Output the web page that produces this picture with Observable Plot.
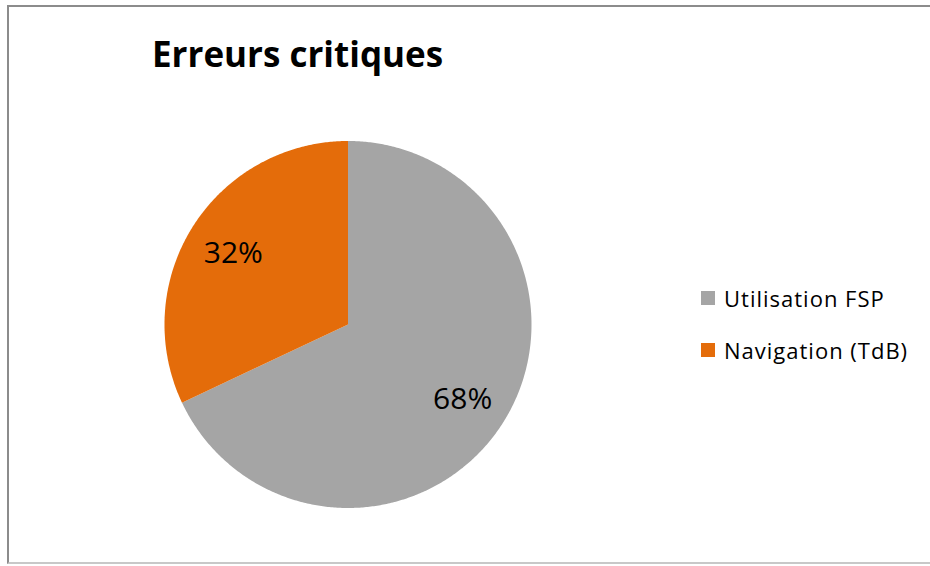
<!DOCTYPE html>
<html>
<head>
<meta charset="utf-8">
<script src="https://cdn.jsdelivr.net/npm/d3@7"></script>
<script src="https://cdn.jsdelivr.net/npm/@observablehq/plot@0.6"></script>
<style>
  html, body { margin: 0; padding: 0; background: #fff; }
  #wrap { position: relative; width: 930px; height: 566px; overflow: hidden; font-family: "Open Sans", Lato, sans-serif; font-variant-ligatures: none; }
  #frame { position: absolute; left: 7px; top: 5px; width: 940px; height: 559px; box-sizing: border-box; border-left: 2px solid #8c8c8c; border-top: 2px solid #8c8c8c; border-bottom: 2px solid #c8c8c8; }
  #plot { position: absolute; left: 0; top: 0; }
  #title { position: absolute; left: 152px; top: 33px; font-size: 35px; font-weight: bold; color: #000; white-space: nowrap; line-height: 1.2; }
  #legend { position: absolute; left: 701px; top: 284px; font-size: 22px; letter-spacing: 1px; color: #000; }
  .item { display: flex; align-items: center; height: 28px; margin-bottom: 24px; white-space: nowrap; }
  .sw { width: 14px; height: 14px; margin-right: 9px; }
</style>
</head>
<body>
<div id="wrap">
  <div id="frame"></div>
  <div id="plot"></div>
  <div id="title">Erreurs critiques</div>
  <div id="legend"></div>
</div>
<script>
const categories = ["Utilisation FSP", "Navigation (TdB)"];
const values = [68, 32];
const labels = ["68%", "32%"];
const colors = ["#A5A5A5", "#E46C0A"];

const W = 930, H = 566;
const cx = 347.5, cy = 324, R = 183.5;

// build slice polygons (clockwise from 12 o'clock) in unit-circle data space
const total = d3.sum(values);
let start = 0;
const polys = [];
const labelPts = [];
categories.forEach((c, i) => {
  const a0 = start / total * 2 * Math.PI;
  const a1 = (start + values[i]) / total * 2 * Math.PI;
  start += values[i];
  polys.push({name: c, x: 0, y: 0});
  const n = Math.max(2, Math.ceil((a1 - a0) / (Math.PI / 360)));
  for (let k = 0; k <= n; k++) {
    const a = a0 + (a1 - a0) * k / n;
    polys.push({name: c, x: Math.sin(a), y: Math.cos(a)});
  }
  const am = (a0 + a1) / 2;
  labelPts.push({name: c, label: labels[i], x: 0.74 * Math.sin(am), y: 0.74 * Math.cos(am)});
});

const chart = Plot.plot({
  width: W, height: H,
  margin: 0,
  x: {domain: [-cx / R, (W - cx) / R], axis: null},
  y: {domain: [-(H - cy) / R, cy / R], axis: null},
  color: {domain: categories, range: colors},
  style: {background: "transparent", overflow: "visible"},
  marks: [
    Plot.line(polys, {x: "x", y: "y", z: "name", fill: "name", stroke: "none", curve: "linear"}),
    Plot.text(labelPts, {x: "x", y: "y", dy: 2, text: "label", fontSize: 30, fill: "#000", fontFamily: "'Open Sans', Lato, sans-serif"})
  ]
});
document.getElementById("plot").appendChild(chart);

const legend = document.getElementById("legend");
categories.forEach((c, i) => {
  const it = document.createElement("div");
  it.className = "item";
  const sw = document.createElement("div");
  sw.className = "sw";
  sw.style.background = colors[i];
  const t = document.createElement("span");
  t.textContent = c;
  it.appendChild(sw); it.appendChild(t);
  legend.appendChild(it);
});
</script>
</body>
</html>
